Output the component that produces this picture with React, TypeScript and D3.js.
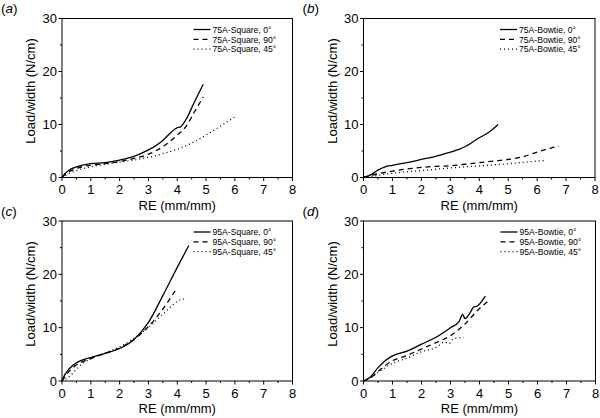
import * as d3 from "d3";

// RE (mm/mm) vs load/width (N/cm)
const a75Square0: [number, number][] = [[0, 0], [0.1, 0.7], [0.25, 1.4], [0.5, 2.0], [0.75, 2.4], [1, 2.6], [1.5, 2.8], [2, 3.3], [2.5, 4.0], [3, 5.2], [3.5, 7.0], [3.8, 8.6], [4.0, 9.4], [4.1, 9.5], [4.3, 10.9], [4.6, 14.3], [4.9, 17.6]];
const a75Square90: [number, number][] = [[0, 0], [0.1, 0.5], [0.25, 1.1], [0.5, 1.7], [0.75, 2.1], [1, 2.3], [1.5, 2.6], [2, 3.0], [2.5, 3.6], [3, 4.4], [3.5, 5.8], [4, 8.0], [4.3, 9.6], [4.6, 12.4], [4.9, 15.2]];
const a75Square45: [number, number][] = [[0, 0], [0.1, 0.3], [0.25, 0.8], [0.5, 1.3], [1, 2.0], [1.5, 2.5], [2, 2.9], [2.5, 3.3], [3, 3.8], [3.5, 4.5], [4, 5.3], [4.5, 6.5], [5, 8.0], [5.5, 9.7], [6.05, 11.6]];

const b75Bowtie0: [number, number][] = [[0, 0], [0.25, 0.5], [0.5, 1.4], [0.75, 2.0], [1, 2.3], [1.5, 2.8], [2, 3.4], [2.5, 4.0], [3, 4.8], [3.3, 5.3], [3.5, 5.8], [4, 7.5], [4.3, 8.4], [4.65, 10.0]];
const b75Bowtie90: [number, number][] = [[0, 0], [0.5, 0.7], [1, 1.2], [1.5, 1.6], [2, 1.9], [2.5, 2.1], [3, 2.2], [3.5, 2.5], [4, 2.8], [4.5, 3.1], [5, 3.4], [5.5, 3.9], [6, 4.8], [6.5, 5.6], [6.75, 5.9]];
const b75Bowtie45: [number, number][] = [[0, 0], [0.5, 0.4], [1, 0.8], [2, 1.3], [3, 1.8], [4, 2.2], [5, 2.6], [5.6, 2.9], [6.25, 3.2]];

const c95Square0: [number, number][] = [[0, 0], [0.1, 1.2], [0.25, 2.3], [0.5, 3.4], [0.75, 4.0], [1, 4.4], [1.5, 5.2], [2, 6.1], [2.5, 7.8], [3, 11.0], [3.5, 16.0], [4, 21.3], [4.4, 25.4]];
const c95Square90: [number, number][] = [[0, 0], [0.1, 0.8], [0.25, 1.8], [0.5, 3.0], [0.75, 3.7], [1, 4.2], [1.5, 5.2], [2, 6.2], [2.5, 7.8], [3, 10.2], [3.5, 13.5], [3.95, 17.1]];
const c95Square45: [number, number][] = [[0, 0], [0.25, 0.8], [0.5, 2.2], [0.75, 3.4], [1, 4.2], [1.5, 5.3], [2, 6.4], [2.5, 8.0], [3, 10.0], [3.5, 12.5], [4, 14.9], [4.2, 15.4], [4.3, 15.0]];

const d95Bowtie0: [number, number][] = [[0, 0], [0.25, 0.8], [0.5, 2.5], [0.75, 3.8], [1, 4.7], [1.5, 5.6], [2, 6.9], [2.5, 8.2], [3, 10.0], [3.3, 11.2], [3.42, 12.5], [3.5, 11.7], [3.7, 13.0], [3.8, 13.9], [3.9, 14.0], [4.2, 15.9]];
const d95Bowtie90: [number, number][] = [[0, 0], [0.25, 0.6], [0.5, 1.8], [1, 3.8], [1.5, 4.8], [2, 6.0], [2.5, 7.2], [3, 8.5], [3.5, 10.7], [4, 13.6], [4.35, 15.2]];
const d95Bowtie45: [number, number][] = [[0, 0], [0.25, 0.6], [0.5, 1.6], [1, 3.3], [1.5, 4.3], [2, 5.5], [2.5, 6.3], [2.8, 7.3], [2.95, 7.0], [3.1, 7.9], [3.45, 8.2]];

const xTicks = [0, 1, 2, 3, 4, 5, 6, 7, 8];
const yTicks = [0, 10, 20, 30];
const orientations = ["0°", "90°", "45°"];
const dashes = ["none", "5,4", "1,3"];

const FONT = "'Liberation Sans', Arial, sans-serif";

type Panel = {
  letter: string;
  name: string;
  series: [number, number][][];
  left: number; right: number; top: number; bottom: number;
  legendText: number;
};

const panels: Panel[] = [
  { letter: "a", name: "75A-Square", series: [a75Square0, a75Square90, a75Square45], left: 62, right: 292.5, top: 18.5, bottom: 177.5, legendText: 80 },
  { letter: "b", name: "75A-Bowtie", series: [b75Bowtie0, b75Bowtie90, b75Bowtie45], left: 363.5, right: 595, top: 18.5, bottom: 177.5, legendText: 76 },
  { letter: "c", name: "95A-Square", series: [c95Square0, c95Square90, c95Square45], left: 62, right: 292.5, top: 221, bottom: 381, legendText: 80 },
  { letter: "d", name: "95A-Bowtie", series: [d95Bowtie0, d95Bowtie90, d95Bowtie45], left: 363.5, right: 595.5, top: 221, bottom: 381, legendText: 76 },
];

function Chart({ p }: { p: Panel }) {
  const x = d3.scaleLinear().domain([0, 8]).range([p.left, p.right]);
  const y = d3.scaleLinear().domain([0, 30]).range([p.bottom, p.top]);
  const line = d3.line<[number, number]>()
    .x(d => x(d[0]))
    .y(d => y(d[1]))
    .curve(d3.curveMonotoneX);
  const xMinor = d3.range(0.5, 8, 1);
  const yMinor = d3.range(5, 30, 10);
  const midY = (p.top + p.bottom) / 2;
  return (
    <g>
      {p.series.map((s, i) => (
        <path key={i} d={line(s) ?? ""} fill="none" stroke="#000" strokeWidth={1.3}
          strokeDasharray={dashes[i]} />
      ))}
      <rect x={p.left} y={p.top} width={p.right - p.left} height={p.bottom - p.top}
        fill="none" stroke="#000" strokeWidth={1} />
      {xTicks.map(t => (
        <g key={"x" + t}>
          <line x1={x(t)} x2={x(t)} y1={p.bottom} y2={p.bottom + 3.5} stroke="#000" />
          <text x={x(t)} y={p.bottom + 16.5} textAnchor="middle" fontSize={13}>{t}</text>
        </g>
      ))}
      {xMinor.map(t => (
        <line key={"xm" + t} x1={x(t)} x2={x(t)} y1={p.bottom} y2={p.bottom + 2} stroke="#000" />
      ))}
      {yTicks.map(t => (
        <g key={"y" + t}>
          <line x1={p.left - 3.5} x2={p.left} y1={y(t)} y2={y(t)} stroke="#000" />
          <text x={p.left - 5} y={y(t) + 4.5} textAnchor="end" fontSize={13}>{t}</text>
        </g>
      ))}
      {yMinor.map(t => (
        <line key={"ym" + t} x1={p.left - 2} x2={p.left} y1={y(t)} y2={y(t)} stroke="#000" />
      ))}
      <text x={(p.left + p.right) / 2} y={p.bottom + 32} textAnchor="middle" fontSize={13}>RE (mm/mm)</text>
      <text transform={`translate(${p.left - 27},${midY - 7}) rotate(-90)`} textAnchor="middle" fontSize={13}>
        Load/width (N/cm)
      </text>
      <text x={p.left - 61} y={p.top - 5.5} fontSize={13.5}>
        (<tspan fontStyle="italic">{p.letter}</tspan>)
      </text>
      {orientations.map((o, i) => {
        const ly = p.top + 11 + i * 9.8;
        const tx = p.right - p.legendText;
        return (
          <g key={"l" + i}>
            <line x1={tx - 19} x2={tx - 2} y1={ly} y2={ly} stroke="#000" strokeWidth={1.3}
              strokeDasharray={dashes[i]} />
            <text x={tx} y={ly + 3.2} fontSize={8.6}>{`${p.name}, ${o}`}</text>
          </g>
        );
      })}
    </g>
  );
}

export default function App() {
  return (
    <div style={{ position: "absolute", left: 0, top: 0 }}>
      <svg width={600} height={418} style={{ display: "block", background: "#fff", fontFamily: FONT }}>
        {panels.map(p => <Chart key={p.letter} p={p} />)}
      </svg>
    </div>
  );
}
